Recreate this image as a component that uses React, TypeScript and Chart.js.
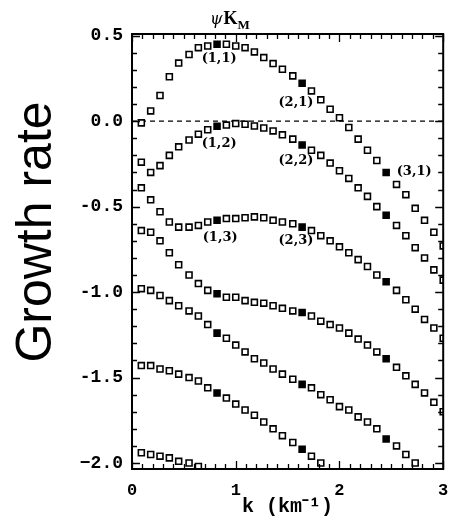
import React, { useEffect, useRef } from "react";
import { Chart, registerables } from "chart.js";

Chart.register(...registerables);

// wavenumber k (km^-1) of each computed point
const kValues = [
  0.09, 0.18, 0.27, 0.36, 0.45, 0.55, 0.64, 0.73, 0.82, 0.91, 1.0,
  1.09, 1.18, 1.27, 1.36, 1.45, 1.55, 1.64, 1.73, 1.82, 1.91, 2.0,
  2.09, 2.18, 2.27, 2.36, 2.45, 2.55, 2.64, 2.73, 2.82, 2.91, 3.0,
];

// growth rate of each branch
const branch1 = [
  -0.01, 0.06, 0.15, 0.26, 0.34, 0.39, 0.43, 0.44, 0.45, 0.45, 0.44,
  0.43, 0.405, 0.372, 0.337, 0.304, 0.265, 0.222, 0.177, 0.125, 0.07, 0.02,
  -0.037, -0.105, -0.17, -0.23, -0.3, -0.37, -0.43, -0.51, -0.58, -0.65, -0.73,
];
const branch2 = [
  -0.24, -0.3, -0.26, -0.2, -0.15, -0.11, -0.076, -0.05, -0.03, -0.023, -0.014,
  -0.018, -0.028, -0.04, -0.057, -0.08, -0.105, -0.14, -0.17, -0.2, -0.245, -0.29,
  -0.335, -0.39, -0.44, -0.5, -0.55, -0.61, -0.67, -0.74, -0.8, -0.87, -0.93,
];
const branch3 = [
  -0.39, -0.46, -0.53, -0.59, -0.62, -0.62, -0.61, -0.59, -0.58, -0.57, -0.57,
  -0.565, -0.56, -0.565, -0.58, -0.59, -0.6, -0.62, -0.64, -0.67, -0.7, -0.735,
  -0.77, -0.81, -0.85, -0.9, -0.94, -0.99, -1.045, -1.1, -1.16, -1.21, -1.27,
];
const branch4 = [
  -0.64, -0.65, -0.7, -0.77, -0.84, -0.9, -0.95, -0.99, -1.01, -1.03, -1.03,
  -1.05, -1.06, -1.065, -1.08, -1.095, -1.11, -1.12, -1.14, -1.17, -1.19, -1.21,
  -1.24, -1.275, -1.31, -1.35, -1.39, -1.44, -1.49, -1.54, -1.59, -1.645, -1.7,
];
const branch5 = [
  -0.98, -0.99, -1.02, -1.05, -1.08, -1.11, -1.14, -1.19, -1.24, -1.27, -1.31,
  -1.35, -1.39, -1.415, -1.45, -1.48, -1.51, -1.54, -1.56, -1.6, -1.63, -1.67,
  -1.69, -1.73, -1.76, -1.8, -1.86, -1.9, -1.95, -2.0,
];
const branch6 = [
  -1.43, -1.43, -1.45, -1.46, -1.48, -1.5, -1.52, -1.56, -1.59, -1.62, -1.655,
  -1.69, -1.72, -1.76, -1.8, -1.84, -1.88, -1.92, -1.96, -2.0,
];
const branch7 = [-1.94, -1.95, -1.96, -1.97, -1.99, -2.0, -2.02];

// k values drawn with filled markers
const filledK = [0.82, 1.64, 2.45];

const xTickValues = [0, 1, 2, 3];
const xTickLabels = ["0", "1", "2", "3"];
const yTickValues = [-2, -1.5, -1, -0.5, 0, 0.5];
const yTickLabels = ["\u22122.0", "-1.5", "-1.0", "-0.5", "0.0", "0.5"];

const modeLabels = ["(1,1)", "(1,2)", "(1,3)", "(2,1)", "(2,2)", "(2,3)", "(3,1)"];
const modeLabelK = [0.84, 0.84, 0.85, 1.58, 1.58, 1.58, 2.72];
const modeLabelG = [0.368, -0.129, -0.684, 0.111, -0.228, -0.7, -0.298];

const yTitle = "Growth rate";
const xTitle = "k (km\u207B\u00B9)";

const branches = [branch1, branch2, branch3, branch4, branch5, branch6, branch7];

const framePlugin = {
  id: "frameTicks",
  afterDatasetsDraw(chart: any) {
    const { ctx, chartArea, scales } = chart;
    const { left, right, top, bottom } = chartArea;
    const xs = scales.x;
    const ys = scales.y;
    ctx.save();
    ctx.strokeStyle = "#000";
    ctx.lineWidth = 1.3;
    ctx.beginPath();
    for (let i = 0; i <= 30; i++) {
      const v = i / 10;
      const px = Math.round(xs.getPixelForValue(v)) + 0.5;
      const len = i % 10 === 0 ? 8 : 5;
      ctx.moveTo(px, bottom);
      ctx.lineTo(px, bottom - len);
      ctx.moveTo(px, top);
      ctx.lineTo(px, top + len);
    }
    for (let i = -20; i <= 5; i++) {
      const v = i / 10;
      const py = Math.round(ys.getPixelForValue(v)) + 0.5;
      const len = i % 5 === 0 ? 8 : 5;
      ctx.moveTo(left, py);
      ctx.lineTo(left + len, py);
      ctx.moveTo(right, py);
      ctx.lineTo(right - len, py);
    }
    ctx.stroke();
    ctx.lineWidth = 2;
    ctx.strokeRect(left, top, right - left, bottom - top);

    // branch labels
    ctx.fillStyle = "#000";
    ctx.font = "bold 13px 'DejaVu Serif'";
    ctx.textAlign = "center";
    ctx.textBaseline = "middle";
    modeLabels.forEach((t, i) => {
      ctx.fillText(t, xs.getPixelForValue(modeLabelK[i]), ys.getPixelForValue(modeLabelG[i]));
    });

    // top label psi K_M
    const tx = left + 78;
    ctx.textAlign = "left";
    ctx.textBaseline = "alphabetic";
    ctx.font = "italic 16px 'DejaVu Serif'";
    ctx.fillText("\u03C8", tx, 24);
    const w1 = ctx.measureText("\u03C8").width;
    ctx.font = "bold 18px 'Liberation Serif'";
    ctx.fillText("K", tx + w1 + 1, 24);
    const w2 = ctx.measureText("K").width;
    ctx.font = "bold 13px 'Liberation Serif'";
    ctx.fillText("M", tx + w1 + w2 + 1, 29);

    // y title
    ctx.save();
    ctx.translate(51, 232);
    ctx.rotate(-Math.PI / 2);
    ctx.font = "50px 'Liberation Sans'";
    ctx.textAlign = "center";
    ctx.textBaseline = "alphabetic";
    ctx.fillText(yTitle, 0, 0);
    ctx.restore();
    ctx.restore();
  },
};

export default function App() {
  const ref = useRef<HTMLCanvasElement>(null);
  useEffect(() => {
    if (!ref.current) return;
    const datasets: any[] = branches.map((vals, si) => ({
      type: "scatter",
      label: "branch" + (si + 1),
      data: vals.map((v, i) => ({ x: kValues[i], y: v })),
      showLine: false,
      pointStyle: "rect",
      pointRadius: 4.2,
      pointBorderWidth: 1.6,
      pointBorderColor: "#000",
      pointBackgroundColor: (c: any) => {
        const p = c.raw;
        return p && filledK.some((f) => Math.abs(f - p.x) < 1e-6) ? "#000" : "#fff";
      },
      order: 1,
    }));
    datasets.push({
      type: "line",
      label: "zero",
      data: [
        { x: 0, y: 0 },
        { x: 3, y: 0 },
      ],
      borderColor: "#000",
      borderWidth: 1.2,
      borderDash: [5, 4],
      pointRadius: 0,
      order: 2,
    });
    const chart = new Chart(ref.current, {
      type: "scatter",
      data: { datasets },
      options: {
        animation: false,
        responsive: false,
        devicePixelRatio: 1,
        events: [],
        layout: { padding: { left: 0, right: 3, top: 34, bottom: 0 } },
        plugins: { legend: { display: false }, tooltip: { enabled: false } },
        scales: {
          x: {
            type: "linear",
            min: 0,
            max: 3,
            grid: { display: false, drawTicks: false, tickLength: 0 },
            border: { display: false },
            afterBuildTicks: (s: any) => {
              s.ticks = xTickValues.map((v) => ({ value: v }));
            },
            afterFit: (s: any) => {
              s.height = 59;
              s.paddingLeft = 0;
              s.paddingRight = 0;
            },
            ticks: {
              padding: 12,
              color: "#000",
              font: { family: "'Liberation Mono'", weight: "bold", size: 17 },
              maxRotation: 0,
              callback: (_v: any, i: number) => xTickLabels[i],
            },
            title: {
              display: true,
              text: xTitle,
              color: "#000",
              font: { family: "'Liberation Mono'", weight: "bold", size: 20 },
              padding: { top: 0, bottom: 9 },
            },
          },
          y: {
            type: "linear",
            min: -2.035,
            max: 0.51,
            grid: { display: false, drawTicks: false, tickLength: 0 },
            border: { display: false },
            afterBuildTicks: (s: any) => {
              s.ticks = yTickValues.map((v) => ({ value: v }));
            },
            afterFit: (s: any) => {
              s.width = 132;
              s.paddingTop = 0;
              s.paddingBottom = 0;
            },
            ticks: {
              padding: 9,
              color: "#000",
              font: { family: "'Liberation Mono'", weight: "bold", size: 18 },
              callback: (_v: any, i: number) => yTickLabels[i],
            },
          },
        },
      },
      plugins: [framePlugin],
    } as any);
    return () => chart.destroy();
  }, []);
  return (
    <div style={{ position: "fixed", left: 0, top: 0, width: 449, height: 528, background: "#fff" }}>
      <canvas ref={ref} width={449} height={528} style={{ display: "block", width: 449, height: 528 }} />
    </div>
  );
}
